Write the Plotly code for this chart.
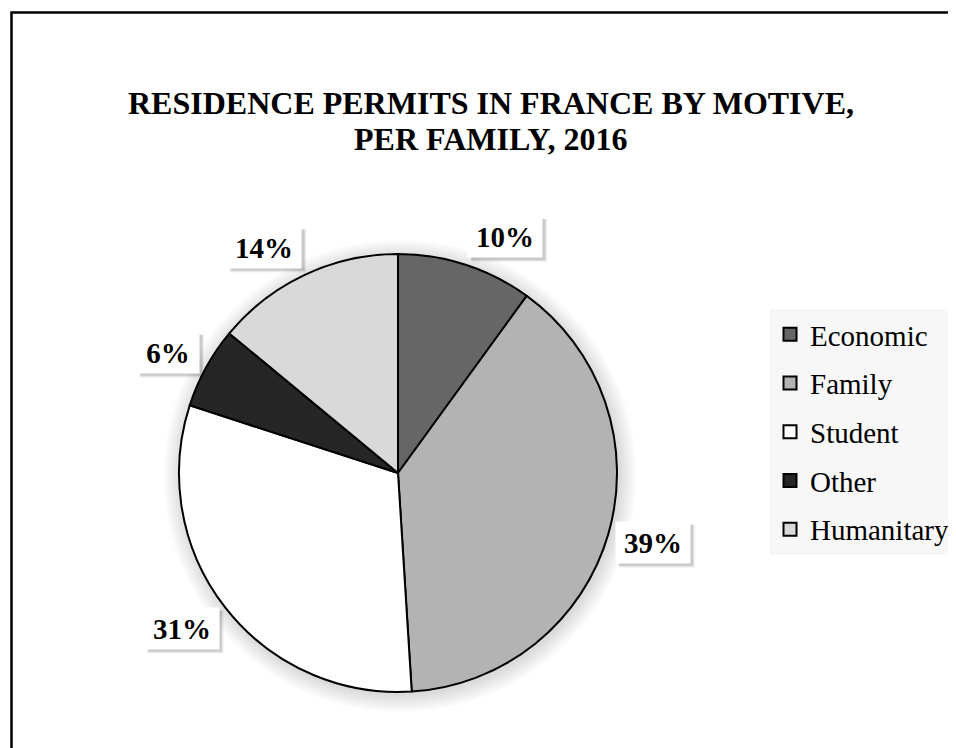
import math
import plotly.graph_objects as go

# ---- data ----
categories = ["Economic", "Family", "Student", "Other", "Humanitary"]
shares = [10, 39, 31, 6, 14]
slice_colors = ["#666666", "#b3b3b3", "#ffffff", "#262626", "#d9d9d9"]
title_lines = ["RESIDENCE PERMITS IN FRANCE BY MOTIVE,", "PER FAMILY, 2016"]

# page body has an 8px margin; lay out in page pixels and convert
OFF = 8
WF, HF = 956 - OFF, 748 - OFF
CX, CY, R = 398, 473, 219          # pie centre / radius (page pixels)
SERIF = "Liberation Serif, Times New Roman, serif"


def fx(x):
    return (x - OFF) / WF


def fy(y):
    return 1 - (y - OFF) / HF


fig = go.Figure()

fig.add_trace(go.Pie(
    labels=categories, values=shares, sort=False, direction="clockwise",
    rotation=0, textinfo="none", hoverinfo="label+percent",
    marker=dict(colors=slice_colors, line=dict(color="#000000", width=2)),
    domain=dict(x=[fx(CX - R), fx(CX + R)], y=[fy(CY + R), fy(CY - R)]),
    showlegend=False,
))

# legend entries (one per category)
for name, col in zip(categories, slice_colors):
    fig.add_trace(go.Scatter(
        x=[None], y=[None], mode="markers", name=name, legendgroup=name,
        marker=dict(symbol="square", size=13, color=col, line=dict(color="#000000", width=2)),
        hoverinfo="skip",
    ))

shapes = []
# soft glow around the pie
for k in range(1, 19):
    r = R + k
    shapes.append(dict(type="circle", xref="paper", yref="paper",
                       xsizemode="pixel", ysizemode="pixel",
                       xanchor=fx(CX + 2), yanchor=fy(CY + 3),
                       x0=-r, x1=r, y0=-r, y1=r,
                       line=dict(width=0), fillcolor="rgba(0,0,0,0.009)", layer="below"))

# outer frame (top/left edge visible)
shapes.append(dict(type="rect", xref="paper", yref="paper",
                   x0=fx(11.5), x1=1.05, y0=-0.05, y1=fy(12.5),
                   line=dict(color="#000000", width=2.5), fillcolor="rgba(0,0,0,0)", layer="above"))

annotations = []
total = sum(shares)
cum = 0.0
for v in shares:
    theta = math.radians((cum + v / 2) / total * 360)
    cum += v
    sx, sy = math.sin(theta), -math.cos(theta)     # screen direction
    ex, ey = CX + R * sx, CY + R * sy              # point on the pie edge
    txt = f"{round(v / total * 100)}%"
    w = 12 * len(txt) + 38
    h = 41
    G = 8
    ox = math.copysign(w / 2, sx) + G * sx
    oy = math.copysign(h / 2, sy) * min(1.0, abs(sy) / max(abs(sx), 1e-6)) + G * sy
    px, py = fx(ex + ox), fy(ey + oy)
    # drop shadow of the label box
    for j, a in enumerate([0.10, 0.07, 0.05]):
        shapes.append(dict(type="rect", xref="paper", yref="paper",
                           xsizemode="pixel", ysizemode="pixel", xanchor=px, yanchor=py,
                           x0=-w / 2 + 3, x1=w / 2 + 3 + j, y0=-h / 2 - 3 - j, y1=h / 2 - 3,
                           line=dict(width=0), fillcolor=f"rgba(0,0,0,{a})", layer="above"))
    annotations.append(dict(
        xref="paper", yref="paper", x=px, y=py, xanchor="center", yanchor="middle",
        text=f"<b>{txt}</b>", showarrow=False, width=w, height=h, borderpad=0,
        bgcolor="#ffffff", font=dict(family=SERIF, size=29, color="#000000"),
    ))

for line, yc in zip(title_lines, [103, 139]):
    annotations.append(dict(
        xref="paper", yref="paper", x=fx(491), y=fy(yc), xanchor="center", yanchor="middle",
        text=f"<b>{line}</b>", showarrow=False,
        font=dict(family=SERIF, size=32, color="#000000"),
    ))

fig.update_layout(
    width=WF, height=HF, margin=dict(l=0, r=0, t=0, b=0),
    paper_bgcolor="#ffffff", plot_bgcolor="rgba(0,0,0,0)",
    xaxis=dict(visible=False), yaxis=dict(visible=False),
    shapes=shapes, annotations=annotations,
    legend=dict(x=fx(770), y=fy(309), xanchor="left", yanchor="top",
                bgcolor="#f7f7f7", borderwidth=0, traceorder="grouped",
                tracegroupgap=8, itemwidth=30,
                font=dict(family=SERIF, size=29, color="#000000")),
)

fig.write_html("out.html")
